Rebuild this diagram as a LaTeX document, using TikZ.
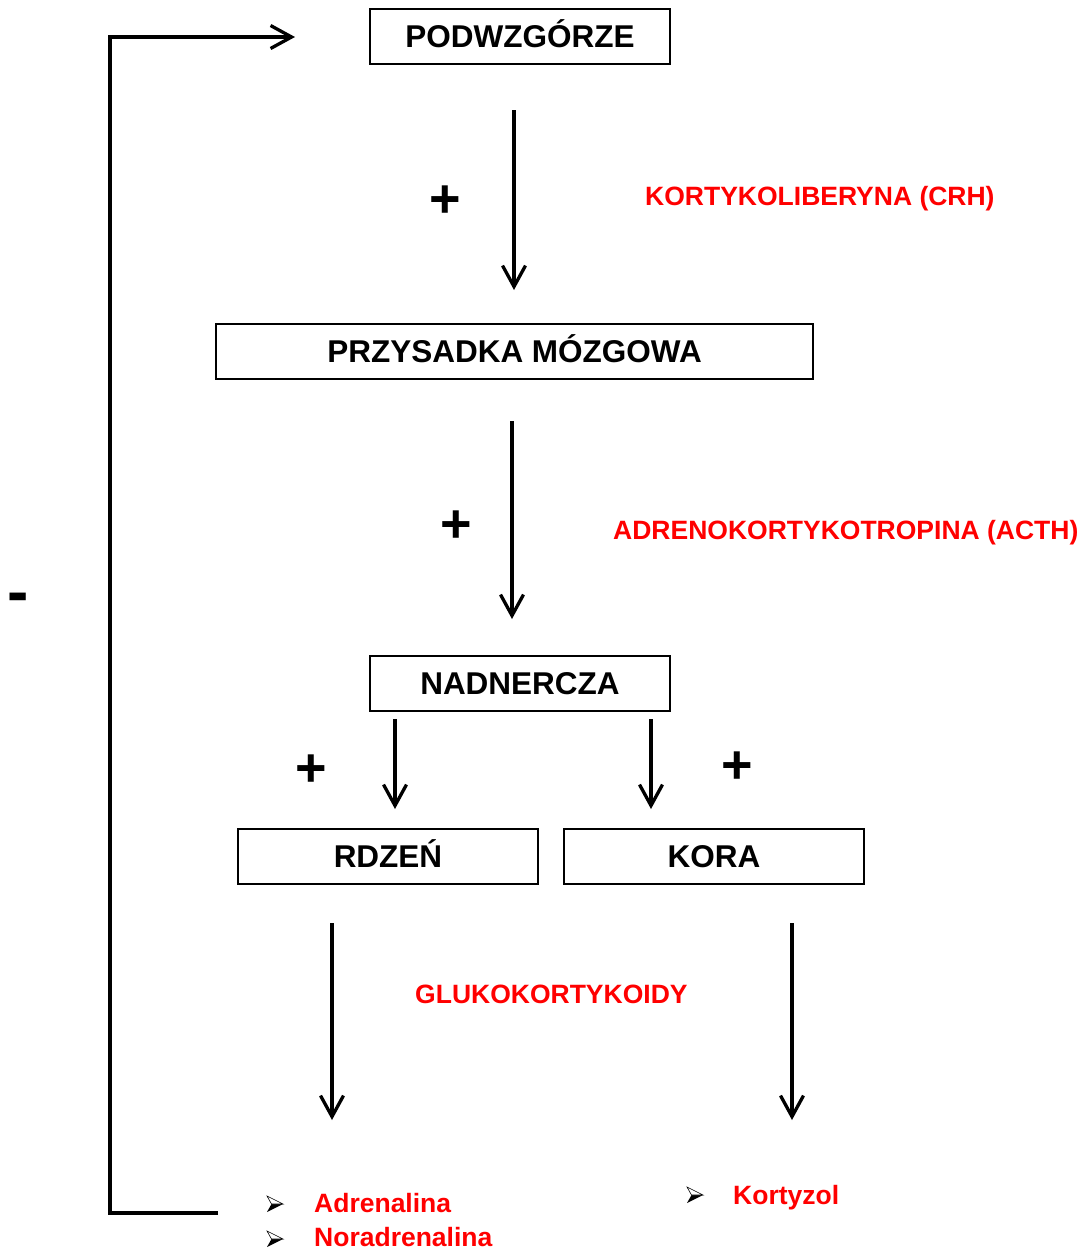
\documentclass[tikz,border=0pt]{standalone}
\usepackage{fontspec}
\setmainfont{Liberation Sans}
\usetikzlibrary{arrows.meta}
\tikzset{
  box/.style={draw, line width=1.8pt, inner sep=0pt, minimum height=55,
    font=\bfseries\fontsize{31.5}{36}\selectfont, text height=22.6pt, text depth=0pt},
  arrowline/.style={draw, line width=3.3pt, -{Straight Barb[length=21pt,width=23pt,line width=3.3pt]}},
  lab/.style={text=red, font=\bfseries\fontsize{26.5}{30}\selectfont, anchor=base west, inner sep=0pt},
  plussign/.style={font=\bfseries\fontsize{54}{60}\selectfont, inner sep=0pt},
  fbline/.style={draw, line width=3.8pt, line join=miter, -{Straight Barb[length=21pt,width=23pt,line width=3.3pt]}},
  bul/.pic={
    \fill[black] (4.5,0) -- (16,0) -- (0,8) -- cycle;
    \draw[line width=0.6pt, fill=white] (0,-8) -- (16,0) -- (4.5,0) -- cycle;
  }
}
\begin{document}
\begin{tikzpicture}[x=1pt,y=-1pt]
\useasboundingbox (0,0) rectangle (1085,1251);

% boxes
\node[box, minimum width=300] (pod) at (520,36.5) {PODWZGÓRZE};
\node[box, minimum width=597] (prz) at (514.5,351.5) {PRZYSADKA MÓZGOWA};
\node[box, minimum width=300] (nad) at (520,683.5) {NADNERCZA};
\node[box, minimum width=300] (rdz) at (388,856.5) {RDZEŃ};
\node[box, minimum width=300] (kor) at (714,856.5) {KORA};

% arrow end points
\coordinate (a1s) at (514,110);  \coordinate (a1e) at (514,290);
\coordinate (a2s) at (512,421);  \coordinate (a2e) at (512,619);
\coordinate (a3s) at (395,719);  \coordinate (a3e) at (395,809);
\coordinate (a4s) at (651,719);  \coordinate (a4e) at (651,809);
\coordinate (a5s) at (332,923);  \coordinate (a5e) at (332,1120);
\coordinate (a6s) at (792,923);  \coordinate (a6e) at (792,1120);
\path[arrowline] (a1s) -- (a1e);
\path[arrowline] (a2s) -- (a2e);
\path[arrowline] (a3s) -- (a3e);
\path[arrowline] (a4s) -- (a4e);
\path[arrowline] (a5s) -- (a5e);
\path[arrowline] (a6s) -- (a6e);

% feedback loop
\coordinate (fbs) at (218,1213);
\coordinate (fbc1) at (110,1213);
\coordinate (fbc2) at (110,37);
\coordinate (fbe) at (295,37);
\path[fbline] (fbs) -- (fbc1) -- (fbc2) -- (fbe);
\node[font=\bfseries\fontsize{64}{70}\selectfont, inner sep=0pt, anchor=base west] (minus) at (7,613.5) {-};

% plus signs
\node[plussign] (p1) at (445,202) {+};
\node[plussign] (p2) at (456,527) {+};
\node[plussign] (p3) at (311,771) {+};
\node[plussign] (p4) at (737,768) {+};

% red labels
\node[lab] (crh) at (645,205) {KORTYKOLIBERYNA (CRH)};
\node[lab] (acth) at (613,539) {ADRENOKORTYKOTROPINA (ACTH)};
\node[lab] (glu) at (415,1003) {GLUKOKORTYKOIDY};
\node[lab] (adr) at (314,1212) {Adrenalina};
\node[lab] (nor) at (314,1246) {Noradrenalina};
\node[lab] (kort) at (733,1204) {Kortyzol};

% bullets
\pic at (267,1204) {bul};
\pic at (267,1239) {bul};
\pic at (687,1195) {bul};
\end{tikzpicture}
\end{document}
